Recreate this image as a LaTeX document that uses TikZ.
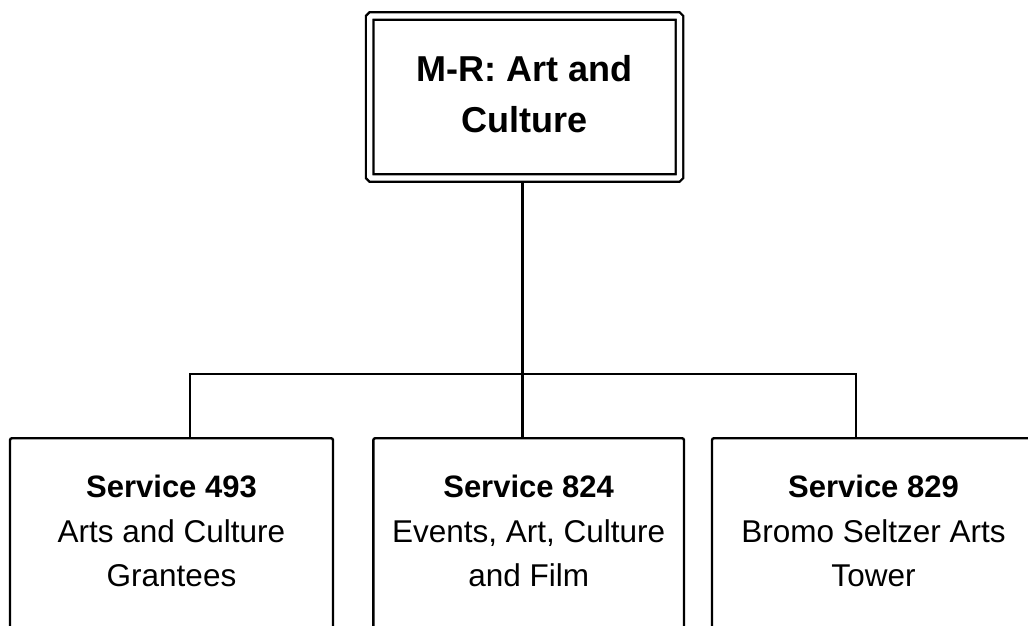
\documentclass[tikz,border=0pt]{standalone}
\usepackage{fontspec}
\setmainfont{Liberation Sans}
\begin{document}
\begin{tikzpicture}[x=1pt,y=-1pt,
    conn/.style={line width=2.4pt},
    titlebox/.style={draw, double, double distance=5.1pt, line width=2.4pt,
      rounded corners=1.5pt, minimum width=309.75pt, minimum height=162pt, inner sep=0pt},
    titletext/.style={align=center, inner sep=0pt, anchor=north,
      font=\fontsize{36}{51}\selectfont\bfseries},
    svcbox/.style={draw, line width=2.4pt, rounded corners=2pt, anchor=north,
      minimum height=260pt, inner sep=0pt},
    svctext/.style={align=center, inner sep=0pt, anchor=north,
      font=\fontsize{31.5}{44}\selectfont}]
  \useasboundingbox (0,0) rectangle (1028,625);
  \clip (0,0) rectangle (1028,625);

  % top level
  \node[titlebox] (top) at (524.6,97) {};
  \node[titletext] (ttl) at (524.5,55) {M-R: Art and\\Culture};

  % service boxes
  \node[svcbox, minimum width=323pt]   (b493) at (171.5,437) {};
  \node[svcbox, minimum width=310.7pt] (b824) at (528.65,437) {};
  \node[svcbox, minimum width=323pt]   (b829) at (873.5,437) {};

  \node[svctext] (t493) at (171.5,475)
    {{\fontsize{31}{44}\selectfont\bfseries Service 493}\\[1pt]Arts and Culture\\Grantees};
  \node[svctext] (t824) at (528.65,475)
    {{\fontsize{31}{44}\selectfont\bfseries Service 824}\\[1pt]Events, Art, Culture\\and Film};
  \node[svctext] (t829) at (873.5,475)
    {{\fontsize{31}{44}\selectfont\bfseries Service 829}\\[1pt]Bromo Seltzer Arts\\Tower};

  % connectors
  \coordinate (hub) at (522.3,374);
  \coordinate (j493) at (190,374);
  \coordinate (j829) at (855.7,374);
  \draw[conn, shorten <=3.75pt] (top.south -| hub) -- (hub);
  \draw[conn] (j493 |- b493.north) -- (j493) -- (j829) -- (j829 |- b829.north);
  \draw[conn] (hub) -- (hub |- b824.north);
\end{tikzpicture}
\end{document}
